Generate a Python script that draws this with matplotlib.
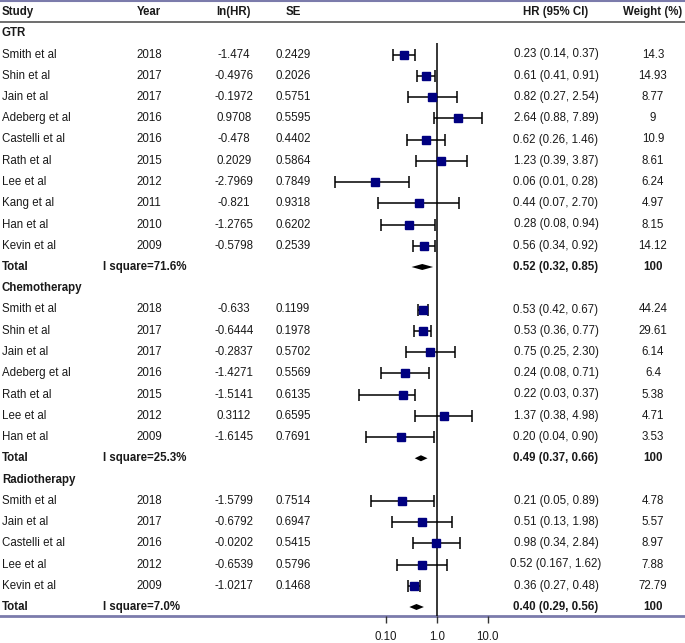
import numpy as np
import matplotlib
matplotlib.use("Agg")
import matplotlib.pyplot as plt
from matplotlib.ticker import FixedLocator, NullLocator

plt.rcParams['font.family'] = ['Liberation Sans', 'DejaVu Sans']

# ---- data ----
groups = ["GTR", "Chemotherapy", "Radiotherapy"]

gtr_study = ["Smith et al", "Shin et al", "Jain et al", "Adeberg et al", "Castelli et al",
             "Rath et al", "Lee et al", "Kang et al", "Han et al", "Kevin et al"]
gtr_year = [2018, 2017, 2017, 2016, 2016, 2015, 2012, 2011, 2010, 2009]
gtr_lnhr = [-1.474, -0.4976, -0.1972, 0.9708, -0.478, 0.2029, -2.7969, -0.821, -1.2765, -0.5798]
gtr_se = [0.2429, 0.2026, 0.5751, 0.5595, 0.4402, 0.5864, 0.7849, 0.9318, 0.6202, 0.2539]
gtr_hr = [0.23, 0.61, 0.82, 2.64, 0.62, 1.23, 0.06, 0.44, 0.28, 0.56]
gtr_lo = [0.14, 0.41, 0.27, 0.88, 0.26, 0.39, 0.01, 0.07, 0.08, 0.34]
gtr_hi = [0.37, 0.91, 2.54, 7.89, 1.46, 3.87, 0.28, 2.70, 0.94, 0.92]
gtr_w = [14.3, 14.93, 8.77, 9, 10.9, 8.61, 6.24, 4.97, 8.15, 14.12]

chemo_study = ["Smith et al", "Shin et al", "Jain et al", "Adeberg et al", "Rath et al",
               "Lee et al", "Han et al"]
chemo_year = [2018, 2017, 2017, 2016, 2015, 2012, 2009]
chemo_lnhr = [-0.633, -0.6444, -0.2837, -1.4271, -1.5141, 0.3112, -1.6145]
chemo_se = [0.1199, 0.1978, 0.5702, 0.5569, 0.6135, 0.6595, 0.7691]
chemo_hr = [0.53, 0.53, 0.75, 0.24, 0.22, 1.37, 0.20]
chemo_lo = [0.42, 0.36, 0.25, 0.08, 0.03, 0.38, 0.04]
chemo_hi = [0.67, 0.77, 2.30, 0.71, 0.37, 4.98, 0.90]
chemo_w = [44.24, 29.61, 6.14, 6.4, 5.38, 4.71, 3.53]

radio_study = ["Smith et al", "Jain et al", "Castelli et al", "Lee et al", "Kevin et al"]
radio_year = [2018, 2017, 2016, 2012, 2009]
radio_lnhr = [-1.5799, -0.6792, -0.0202, -0.6539, -1.0217]
radio_se = [0.7514, 0.6947, 0.5415, 0.5796, 0.1468]
radio_hr = [0.21, 0.51, 0.98, 0.52, 0.36]
radio_lo = [0.05, 0.13, 0.34, 0.167, 0.27]
radio_hi = [0.89, 1.98, 2.84, 1.62, 0.48]
radio_w = [4.78, 5.57, 8.97, 7.88, 72.79]

total_hr = [0.52, 0.49, 0.40]
total_lo = [0.32, 0.37, 0.29]
total_hi = [0.85, 0.66, 0.56]
total_i2 = ["71.6%", "25.3%", "7.0%"]

headers = ["Study", "Year", "ln(HR)", "SE", "HR (95% CI)", "Weight (%)"]
tick_vals = [0.1, 1.0, 10.0]
tick_labels = ["0.10", "1.0", "10.0"]


def fmt(v):
    s = repr(float(v))
    dec = len(s.split('.')[1])
    return s if dec > 2 else f"{v:.2f}"


W, H = 685, 643
fig = plt.figure(figsize=(W / 100, H / 100), dpi=100)
bg = fig.add_axes([0, 0, 1, 1])
bg.set_xlim(0, W)
bg.set_ylim(H, 0)
bg.axis('off')

# forest panel, x in log scale (1.0 at px 436.7, one decade = 50.85 px)
fx0, fx1, ybot = 300, 500, 616
fa = fig.add_axes([fx0 / W, (H - ybot) / H, (fx1 - fx0) / W, ybot / H])
fa.patch.set_alpha(0)
fa.set_xscale('log')
fa.set_xlim(10 ** ((fx0 - 436.7) / 50.85), 10 ** ((fx1 - 436.7) / 50.85))
fa.set_ylim(ybot, 0)
for s in fa.spines.values():
    s.set_visible(False)
fa.yaxis.set_major_locator(NullLocator())
fa.xaxis.set_major_locator(FixedLocator(tick_vals))
fa.xaxis.set_minor_locator(NullLocator())
fa.set_xticklabels(tick_labels)
fa.tick_params(axis='x', direction='out', length=5, width=1, color='#333333',
               pad=6, labelsize=8.3, labelcolor='#1a1a1a')

txt = dict(fontsize=8.3, color='#1a1a1a', va='center')
col_x = [2, 149, 234, 293, 556, 653]
row_h = 21.25
y0 = 12

for j, h in enumerate(headers):
    bg.text(col_x[j], y0, h, ha='left' if j == 0 else 'center', fontweight='bold', **txt)

bg.plot([0, W], [1, 1], color='#7b7bab', lw=1.5)
bg.plot([0, W], [21.6, 21.6], color='#555555', lw=1.2)
bg.plot([0, W], [ybot, ybot], color='#7b7bab', lw=2)

sets = [
    (gtr_study, gtr_year, gtr_lnhr, gtr_se, gtr_hr, gtr_lo, gtr_hi, gtr_w),
    (chemo_study, chemo_year, chemo_lnhr, chemo_se, chemo_hr, chemo_lo, chemo_hi, chemo_w),
    (radio_study, radio_year, radio_lnhr, radio_se, radio_hr, radio_lo, radio_hi, radio_w),
]

row = 1
for g, (study, year, lnhr, se, hr, lo, hi, w) in enumerate(sets):
    y = y0 + row_h * row
    bg.text(col_x[0], y, groups[g], ha='left', fontweight='bold', **txt)
    row += 1
    ys = y0 + row_h * (row + np.arange(len(study)))
    for k in range(len(study)):
        bg.text(col_x[0], ys[k], study[k], ha='left', **txt)
        bg.text(col_x[1], ys[k], str(year[k]), ha='center', **txt)
        bg.text(col_x[2], ys[k], repr(lnhr[k]), ha='center', **txt)
        bg.text(col_x[3], ys[k], repr(se[k]), ha='center', **txt)
        bg.text(col_x[4], ys[k], f"{fmt(hr[k])} ({fmt(lo[k])}, {fmt(hi[k])})", ha='center', **txt)
        bg.text(col_x[5], ys[k], str(w[k]), ha='center', **txt)
    hr_a, lo_a, hi_a = np.array(hr), np.array(lo), np.array(hi)
    fa.errorbar(hr_a, ys, xerr=[hr_a - lo_a, hi_a - hr_a], fmt='none', ecolor='black',
                elinewidth=1.1, capsize=4.5, capthick=1.1, zorder=2)
    fa.plot(hr_a, ys, 's', color='#000080', ms=5.2, mec='#000080', zorder=4)
    row += len(study)
    yt = y0 + row_h * row
    bg.text(col_x[0], yt, "Total", ha='left', fontweight='bold', **txt)
    bg.text(103, yt, "I square=" + total_i2[g], ha='left', fontweight='bold', **txt)
    bg.text(col_x[4], yt, f"{fmt(total_hr[g])} ({fmt(total_lo[g])}, {fmt(total_hi[g])})",
            ha='center', fontweight='bold', **txt)
    bg.text(col_x[5], yt, "100", ha='center', fontweight='bold', **txt)
    fa.fill([total_lo[g], total_hr[g], total_hi[g], total_hr[g]],
            [yt, yt - 3, yt, yt + 3], color='black', lw=0, zorder=4)
    row += 1

fa.vlines(1.0, 43, ybot, color='black', lw=1.1, zorder=3)

fig.savefig("out.png", dpi=100)
